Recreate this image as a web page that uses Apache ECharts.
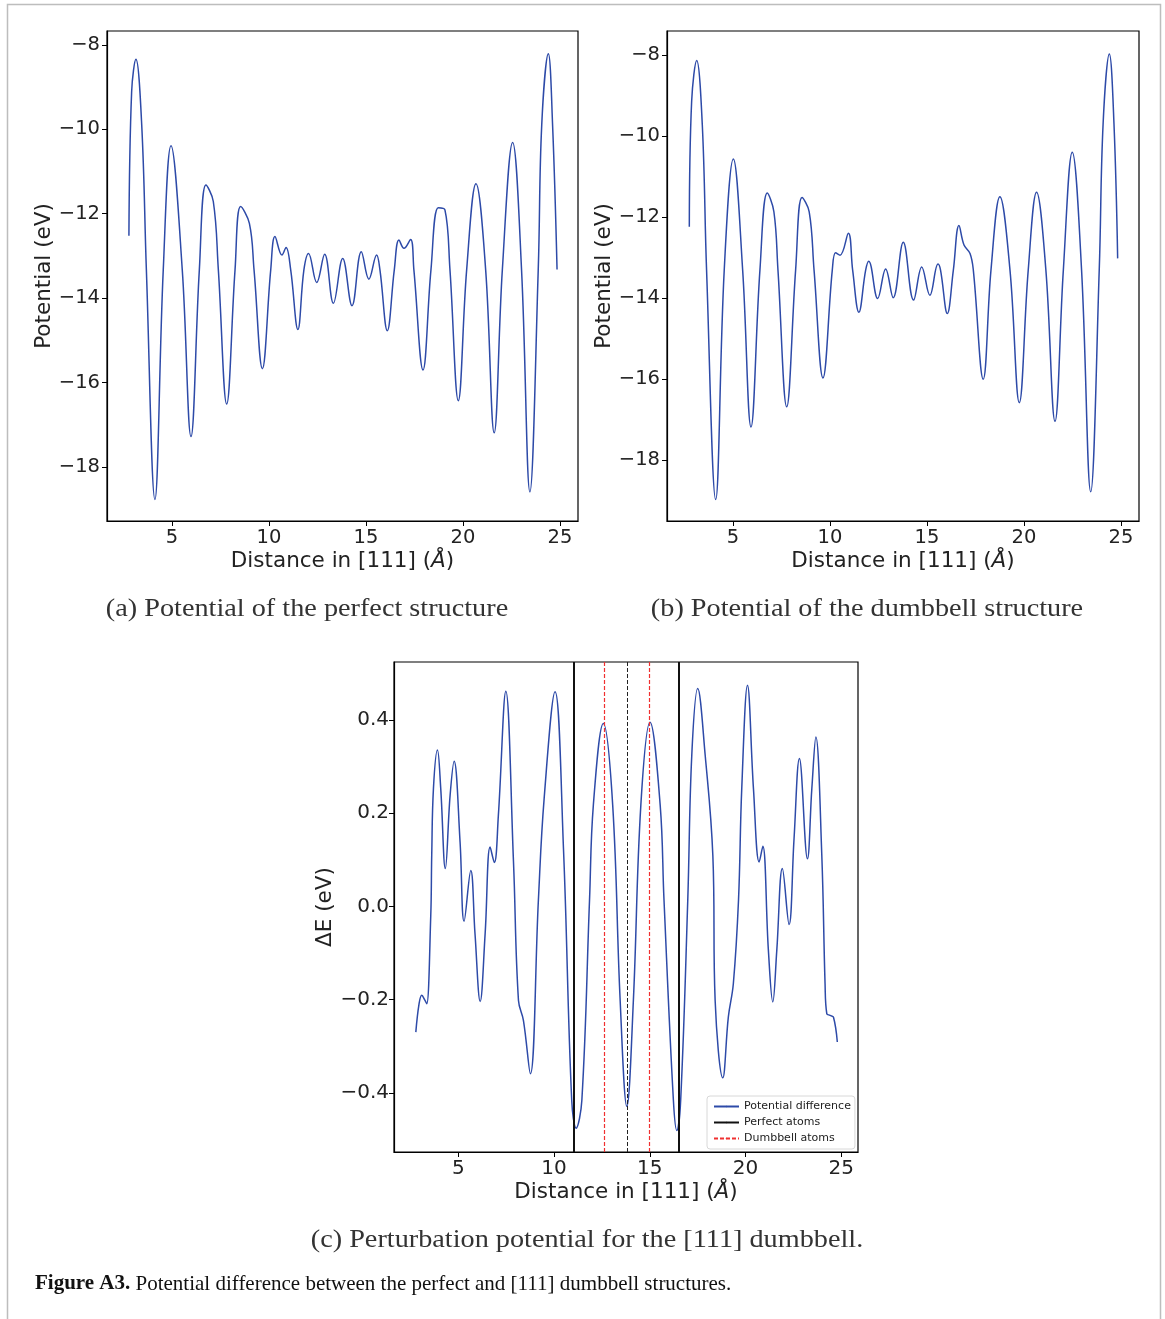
<!DOCTYPE html>
<html>
<head>
<meta charset="utf-8">
<script src="https://cdn.jsdelivr.net/npm/echarts@6/dist/echarts.min.js"></script>
<style>
html,body{margin:0;padding:0;background:#fff;}
#chart{width:1165px;height:1319px;}
</style>
</head>
<body>
<div id="chart"></div>
<script>
// ---------------- data ----------------
const xTicks = [5, 10, 15, 20, 25];
const aYTicks = [-18, -16, -14, -12, -10, -8];
const bYTicks = [-18, -16, -14, -12, -10, -8];
const cYTicks = [-0.4, -0.2, 0.0, 0.2, 0.4];

// (a) potential of the perfect structure
const aX = [2.78, 2.92, 3.14, 3.44, 3.68, 4.12, 4.55, 4.95, 5.53, 5.98, 6.41, 6.75, 7.13, 7.39, 7.82, 8.25, 8.54, 8.99, 9.23, 9.66,
  10.09, 10.31, 10.67, 10.88, 11.12, 11.49, 11.80, 12.04, 12.46, 12.87, 13.32, 13.80, 14.28, 14.76, 15.15, 15.55, 15.72, 16.10, 16.46, 16.70,
  16.96, 17.30, 17.47, 17.94, 18.35, 18.73, 19.07, 19.33, 19.76, 20.19, 20.67, 21.17, 21.61, 22.03, 22.56, 23.02, 23.45, 23.88, 24.06, 24.40,
  24.62, 24.85];
const aY = [-12.52, -9.11, -8.34, -9.90, -13.33, -18.77, -13.33, -10.39, -13.33, -17.28, -13.33, -11.32, -11.71, -13.33, -16.51, -13.33, -11.83, -12.23, -13.33, -15.67,
  -13.33, -12.54, -12.98, -12.80, -13.33, -14.74, -13.33, -12.94, -13.63, -12.96, -14.12, -13.06, -14.18, -12.90, -13.55, -12.98, -13.33, -14.77, -13.33, -12.62,
  -12.82, -12.61, -13.33, -15.70, -13.33, -11.86, -11.91, -13.33, -16.43, -13.33, -11.29, -13.33, -17.19, -13.33, -10.31, -13.33, -18.59, -13.33, -9.90, -8.21,
  -9.90, -13.32];

// (b) potential of the dumbbell structure
const bX = [2.75, 2.87, 3.13, 3.42, 3.64, 4.11, 4.55, 5.02, 5.50, 5.93, 6.39, 6.77, 7.11, 7.32, 7.77, 8.23, 8.56, 8.93, 9.18, 9.64,
  10.12, 10.29, 10.52, 10.95, 11.17, 11.49, 11.84, 12.00, 12.46, 12.87, 13.26, 13.78, 14.31, 14.73, 15.15, 15.57, 15.70, 16.05, 16.36, 16.65,
  16.91, 17.22, 17.39, 17.90, 18.30, 18.76, 19.28, 19.76, 20.22, 20.65, 21.13, 21.60, 22.03, 22.49, 22.97, 23.44, 23.88, 24.08, 24.40, 24.64,
  24.83];
const bY = [-12.24, -9.15, -8.14, -9.73, -13.31, -18.97, -13.31, -10.57, -13.31, -17.18, -13.31, -11.41, -11.87, -13.31, -16.68, -13.31, -11.52, -11.87, -13.31, -15.97,
  -13.31, -12.88, -12.94, -12.40, -13.31, -14.35, -13.31, -13.09, -14.01, -13.28, -13.99, -12.62, -14.05, -13.23, -13.93, -13.16, -13.31, -14.38, -13.31, -12.21,
  -12.69, -12.90, -13.31, -16.00, -13.31, -11.50, -13.31, -16.58, -13.31, -11.39, -13.31, -17.04, -13.31, -10.40, -13.31, -18.78, -13.31, -9.70, -7.98, -9.70,
  -13.02];

// (c) perturbation potential (difference)
const cX = [2.78, 2.95, 3.09, 3.26, 3.35, 3.56, 3.61, 3.70, 3.91, 4.08, 4.32, 4.57, 4.78, 5.09, 5.30, 5.65, 5.87, 6.14, 6.40, 6.66, 6.88,
  7.09, 7.48, 7.88, 8.14, 8.40, 8.76, 9.18, 9.48, 10.05, 10.49, 10.92, 11.15, 11.45, 11.85, 12.05, 12.57, 13.06, 13.45, 13.80, 14.14,
  14.53, 15.01, 15.54, 15.74, 16.23, 16.41, 16.61, 16.98, 17.19, 17.50, 17.89, 18.29, 18.41, 18.81, 19.10, 19.36, 19.63, 19.80, 20.10, 20.41,
  20.71, 20.90, 21.19, 21.42, 21.63, 21.92, 22.27, 22.53, 22.81, 23.23, 23.46, 23.67, 23.98, 24.15, 24.24, 24.41, 24.59, 24.79];
const cY = [-0.270, -0.209, -0.191, -0.202, -0.209, -0.019, 0.109, 0.253, 0.335, 0.253, 0.081, 0.238, 0.311, 0.138, -0.032, 0.077, -0.059, -0.204, -0.058, 0.127, 0.094,
  0.195, 0.461, 0.095, -0.202, -0.245, -0.359, 0.013, 0.231, 0.460, 0.124, -0.416, -0.476, -0.416, 0.013, 0.217, 0.392, 0.217, -0.202, -0.429, -0.202,
  0.217, 0.395, 0.217, 0.013, -0.416, -0.481, -0.416, 0.013, 0.324, 0.467, 0.324, 0.109, -0.202, -0.368, -0.237, -0.166, 0.013, 0.253, 0.474, 0.253,
  0.095, 0.129, -0.094, -0.205, -0.094, 0.081, -0.039, 0.145, 0.317, 0.102, 0.253, 0.363, 0.109, -0.166, -0.230, -0.234, -0.238, -0.291];

const perfectAtoms = [11.04, 16.53];
const dumbbellAtoms = [12.61, 14.96];
const centreLine = [13.81];

// ---------------- styling ----------------
const BLUE = '#2d4aa8';
const SANS = 'DejaVu Sans';
const SERIF = 'Liberation Serif';
const minus = v => String(v).replace('-', '\u2212');

function zip(xs, ys) { return xs.map((x, i) => [x, ys[i]]); }

function xAxisFor(gridIndex, min, max, fs) {
  return {
    type: 'value', gridIndex, min, max,
    name: 'Distance in [111] ({i|Å})', nameLocation: 'middle', nameGap: 29,
    nameTextStyle: { fontFamily: SANS, fontSize: 21.5, color: '#222', rich: { i: { fontStyle: 'italic', fontFamily: SANS, fontSize: 21.5, color: '#222' } } },
    axisLine: { show: true, onZero: false, lineStyle: { color: '#000', width: 1.2 } },
    axisTick: { show: true, inside: false, length: 5, lineStyle: { color: '#000' }, customValues: xTicks },
    axisLabel: { show: true, margin: 7, fontFamily: SANS, fontSize: fs, color: '#222', customValues: xTicks, formatter: v => minus(v) },
    splitLine: { show: false }
  };
}
function yAxisFor(gridIndex, min, max, ticks, name, gap, dec, fs, margin) {
  return {
    type: 'value', gridIndex, min, max,
    name, nameLocation: 'middle', nameGap: gap,
    nameTextStyle: { fontFamily: SANS, fontSize: 21.5, color: '#222' },
    axisLine: { show: true, onZero: false, lineStyle: { color: '#000', width: 1.2 } },
    axisTick: { show: true, inside: false, length: 5, lineStyle: { color: '#000' }, customValues: ticks },
    axisLabel: { show: true, margin, fontFamily: SANS, fontSize: fs, color: '#222', customValues: ticks,
      formatter: v => minus(dec ? Number(v).toFixed(dec) : v) },
    splitLine: { show: false }
  };
}

function caption(text, x, y) {
  return { type: 'text', silent: true, x, y, scaleX: 1.13,
    style: { text, x: 0, y: 0, font: '25px "Liberation Serif"', fill: '#333', textAlign: 'center', textVerticalAlign: 'middle' } };
}

const chart = echarts.init(document.getElementById('chart'), null, { renderer: 'canvas' });

const option = {
  animation: false,
  backgroundColor: '#fff',
  grid: [
    { left: 107, top: 31, width: 471, height: 490, show: true, borderColor: '#000', borderWidth: 1.2, backgroundColor: 'transparent' },
    { left: 667, top: 31, width: 472, height: 490, show: true, borderColor: '#000', borderWidth: 1.2, backgroundColor: 'transparent' },
    { left: 394, top: 662, width: 464, height: 490, show: true, borderColor: '#000', borderWidth: 1.2, backgroundColor: 'transparent' }
  ],
  xAxis: [
    xAxisFor(0, 1.65, 25.93, 19.5),
    xAxisFor(1, 1.60, 25.93, 19.5),
    xAxisFor(2, 1.64, 25.87, 20)
  ],
  yAxis: [
    yAxisFor(0, -19.28, -7.67, aYTicks, 'Potential (eV)', 52, 0, 19.5, 7),
    yAxisFor(1, -19.5, -7.41, bYTicks, 'Potential (eV)', 52, 0, 19.5, 7),
    yAxisFor(2, -0.527, 0.524, cYTicks, 'ΔE (eV)', 58, 1, 20, 5)
  ],
  legend: {
    show: true,
    left: 707, top: 1096,
    orient: 'vertical',
    itemWidth: 25, itemHeight: 2, itemGap: 5,
    padding: [5, 4, 5, 6],
    borderColor: '#d8d8d8', borderWidth: 1, borderRadius: 3,
    backgroundColor: 'rgba(255,255,255,0.85)',
    textStyle: { fontFamily: SANS, fontSize: 11, color: '#222' },
    data: ['Potential difference', 'Perfect atoms', 'Dumbbell atoms']
  },
  series: [
    { name: 'Potential (a)', type: 'line', xAxisIndex: 0, yAxisIndex: 0, data: zip(aX, aY), smooth: 0.4, symbol: 'none',
      lineStyle: { color: BLUE, width: 1.5 }, itemStyle: { color: BLUE } },
    { name: 'Potential (b)', type: 'line', xAxisIndex: 1, yAxisIndex: 1, data: zip(bX, bY), smooth: 0.4, symbol: 'none',
      lineStyle: { color: BLUE, width: 1.5 }, itemStyle: { color: BLUE } },
    { name: 'Potential difference', type: 'line', xAxisIndex: 2, yAxisIndex: 2, data: zip(cX, cY), smooth: 0.4, symbol: 'none',
      lineStyle: { color: BLUE, width: 1.5 }, itemStyle: { color: BLUE }, z: 3,
      markLine: { silent: true, symbol: 'none', label: { show: false },
        lineStyle: { color: '#222', width: 1, type: [4, 2] },
        data: centreLine.map(x => ({ xAxis: x })) } },
    { name: 'Perfect atoms', type: 'line', xAxisIndex: 2, yAxisIndex: 2, data: [], symbol: 'none',
      lineStyle: { color: '#111', width: 2 }, itemStyle: { color: '#111' },
      markLine: { silent: true, symbol: 'none', label: { show: false },
        lineStyle: { color: '#111', width: 2, type: 'solid' },
        data: perfectAtoms.map(x => ({ xAxis: x })) } },
    { name: 'Dumbbell atoms', type: 'line', xAxisIndex: 2, yAxisIndex: 2, data: [], symbol: 'none',
      lineStyle: { color: '#f03030', width: 1.2, type: [4, 2] }, itemStyle: { color: '#f03030' },
      markLine: { silent: true, symbol: 'none', label: { show: false },
        lineStyle: { color: '#f03030', width: 1.2, type: [4, 2] },
        data: dumbbellAtoms.map(x => ({ xAxis: x })) } }
  ],
  graphic: [
    { type: 'rect', silent: true, shape: { x: 7.5, y: 4.5, width: 1153, height: 1330 },
      style: { fill: 'none', stroke: '#bdbdbd', lineWidth: 1.5 }, z: -10 },
    caption('(a) Potential of the perfect structure', 307, 609),
    caption('(b) Potential of the dumbbell structure', 867, 609),
    caption('(c) Perturbation potential for the [111] dumbbell.', 587, 1240),
    { type: 'text', silent: true, x: 35, y: 1284,
      style: { text: '{b|Figure A3.} Potential difference between the perfect and [111] dumbbell structures.', fill: '#111', textAlign: 'left', textVerticalAlign: 'middle',
        font: '21px "Liberation Serif"',
        rich: { b: { fontWeight: 'bold', fontFamily: SERIF, fontSize: 21, fill: '#111' } } } }
  ]
};
chart.setOption(option);
</script>
</body>
</html>
